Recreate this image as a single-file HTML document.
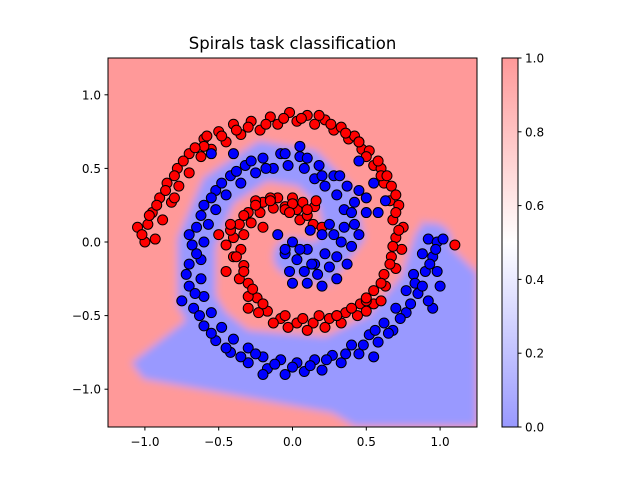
<!DOCTYPE html>
<html><head><meta charset="utf-8">
<style>
html,body{margin:0;padding:0;background:#fff;}
svg text{font-family:"DejaVu Sans","Liberation Sans",sans-serif;}
</style></head>
<body>
<svg id="chart" width="640" height="480" viewBox="0 0 640 480" xmlns="http://www.w3.org/2000/svg">
<defs>
<filter id="blur" x="-10%" y="-10%" width="120%" height="120%"><feGaussianBlur stdDeviation="4"/></filter>
<clipPath id="clip"><rect x="108" y="58" width="369" height="369"/></clipPath>
<linearGradient id="cbar" x1="0" y1="1" x2="0" y2="0">
<stop offset="0" stop-color="#9999ff"/><stop offset="0.5" stop-color="#ffffff"/><stop offset="1" stop-color="#ff9999"/>
</linearGradient>
</defs>
<text x="292.5" y="49" font-size="16.5" text-anchor="middle">Spirals task classification</text>
<g id="plot" clip-path="url(#clip)"></g>
<rect x="108" y="58" width="369" height="369" fill="none" stroke="#000" stroke-width="1"/>
<g id="axes"></g>
<rect x="502" y="58" width="16" height="369" fill="url(#cbar)" stroke="#000" stroke-width="1"/>
<g id="cbticks"></g>
</svg>
<script>
const redX=[-1.05,-1.0,-0.98,-0.93,-0.95,-0.88,-0.9,-0.82,-0.85,-0.77,-0.78,-0.7,-0.7,-0.62,-0.6,-0.55,-0.5,-0.45,-0.4,-0.35,-0.28,-0.22,-0.15,-0.1,-0.02,0.03,0.1,0.15,0.22,0.28,0.33,0.38,0.42,0.47,0.52,0.55,0.6,0.62,0.67,0.66,0.72,0.68,0.75,0.7,0.74,0.67,0.7,0.62,0.63,0.55,0.55,0.46,0.44,0.36,0.33,0.25,0.22,0.14,0.1,0.03,-0.03,-0.08,-0.13,-0.17,-0.23,-0.24,-0.3,-0.3,-0.36,-0.33,-0.4,-0.35,-0.4,-0.33,-0.36,-0.28,-0.3,-0.22,-0.2,-0.13,-0.1,-0.05,0.0,0.03,0.07,0.05,0.1,-0.45,-0.42,1.1,-0.25,-0.15,0.0,0.15,0.3,0.5,-0.6,-0.8,0.6,0.45,-0.05,-0.2];
const redY=[0.1,0.0,0.12,0.02,0.2,0.15,0.3,0.27,0.4,0.38,0.5,0.47,0.6,0.58,0.7,0.63,0.75,0.68,0.8,0.73,0.82,0.76,0.85,0.8,0.88,0.82,0.86,0.8,0.83,0.76,0.78,0.7,0.72,0.63,0.62,0.52,0.5,0.4,0.38,0.28,0.25,0.15,0.1,0.03,-0.05,-0.1,-0.18,-0.22,-0.3,-0.33,-0.42,-0.42,-0.5,-0.48,-0.55,-0.52,-0.58,-0.55,-0.6,-0.55,-0.58,-0.52,-0.55,-0.47,-0.48,-0.38,-0.37,-0.28,-0.25,-0.16,-0.1,-0.05,0.03,0.05,0.12,0.13,0.2,0.2,0.27,0.23,0.3,0.24,0.3,0.22,0.27,0.15,0.18,-0.02,0.08,-0.02,0.28,0.3,0.26,0.24,-0.5,-0.4,0.65,0.3,0.45,0.68,0.22,0.1];
const redX2=[-1.02,-0.97,-0.92,-0.86,-0.8,-0.74,-0.66,-0.58,-0.48,-0.38,-0.3,-0.18,-0.06,0.06,0.18,0.26,0.36,0.45,0.5,0.58,0.64,0.7,0.7,0.72,0.68,0.66,0.6,0.5,0.4,0.3,0.18,0.07,-0.05,-0.2,-0.27,-0.33,-0.38,-0.42,-0.33,-0.25,-0.15,-0.02,0.1,0.14,0.2,0.16,-0.5,-0.45,-0.3,0.5,0.6];
const redY2=[0.05,0.18,0.25,0.35,0.45,0.55,0.64,0.72,0.72,0.76,0.78,0.8,0.84,0.84,0.86,0.8,0.74,0.68,0.58,0.55,0.45,0.32,0.2,0.08,-0.03,-0.15,-0.28,-0.38,-0.45,-0.5,-0.5,-0.52,-0.5,-0.42,-0.32,-0.2,-0.1,0.12,0.18,0.25,0.28,0.2,0.22,0.12,0.1,0.28,0.05,-0.2,-0.45,-0.47,-0.4];
const blueX=[0.0,-0.05,0.03,-0.02,0.08,0.1,0.17,0.2,0.25,0.3,0.3,0.37,0.33,0.4,0.35,0.42,0.35,0.42,0.3,0.37,0.22,0.28,0.15,0.18,0.08,0.05,-0.03,-0.08,-0.13,-0.2,-0.25,-0.32,-0.35,-0.42,-0.45,-0.52,-0.52,-0.6,-0.57,-0.65,-0.6,-0.68,-0.62,-0.7,-0.62,-0.7,-0.6,-0.67,-0.55,-0.6,-0.48,-0.52,-0.4,-0.42,-0.3,-0.3,-0.2,-0.17,-0.08,-0.05,0.03,0.08,0.15,0.2,0.27,0.33,0.4,0.45,0.52,0.58,0.62,0.68,0.7,0.77,0.77,0.85,0.82,0.9,0.88,0.95,0.92,0.98,1.0,0.95,-0.1,0.12,0.25,-0.05,0.5,0.58,0.1,0.2,0.15,0.45,-0.4,0.05,-0.55];
const blueY=[0.0,-0.08,-0.12,-0.2,-0.2,-0.28,-0.22,-0.3,-0.17,-0.25,-0.1,-0.15,0.0,-0.03,0.1,0.12,0.22,0.27,0.32,0.38,0.38,0.45,0.43,0.52,0.5,0.58,0.52,0.6,0.5,0.57,0.47,0.52,0.4,0.45,0.32,0.35,0.22,0.25,0.12,0.1,0.0,-0.02,-0.12,-0.15,-0.25,-0.3,-0.37,-0.45,-0.48,-0.57,-0.58,-0.67,-0.66,-0.75,-0.72,-0.82,-0.78,-0.86,-0.8,-0.9,-0.82,-0.88,-0.8,-0.87,-0.77,-0.82,-0.7,-0.76,-0.63,-0.68,-0.55,-0.6,-0.45,-0.48,-0.33,-0.35,-0.22,-0.2,-0.08,-0.1,0.02,0.0,-0.3,-0.45,0.05,0.08,0.12,-0.05,0.3,0.2,-0.05,0.05,-0.15,0.55,0.6,0.65,0.6];
const blueX2=[0.05,0.0,0.13,0.22,0.28,0.45,0.4,0.45,0.32,0.2,0.1,-0.05,-0.18,-0.28,-0.38,-0.48,-0.55,-0.62,-0.7,-0.65,-0.72,-0.66,-0.63,-0.55,-0.45,-0.35,-0.25,-0.12,0.0,0.12,0.23,0.36,0.48,0.56,0.65,0.73,0.8,0.83,0.88,0.93,0.97,1.02,0.98,0.92,0.55,0.63,0.5,-0.2,0.55,-0.75];
const blueY2=[-0.05,-0.28,-0.15,-0.08,0.05,0.05,0.2,0.35,0.45,0.45,0.57,0.6,0.5,0.55,0.48,0.4,0.3,0.18,0.05,-0.08,-0.22,-0.35,-0.5,-0.62,-0.72,-0.78,-0.76,-0.83,-0.85,-0.84,-0.8,-0.76,-0.7,-0.6,-0.62,-0.52,-0.42,-0.28,-0.3,-0.15,-0.05,0.02,-0.2,-0.4,0.4,0.28,0.2,-0.9,-0.78,-0.4];
const xTicks=[-1.0,-0.5,0.0,0.5,1.0];
const yTicks=[1.0,0.5,0.0,-0.5,-1.0];
const cbTicks=[0.0,0.2,0.4,0.6,0.8,1.0];
const blueRegionX=[-1.09,-1.01,0.27,0.42,1.25,1.25,0.88,0.82,0.6,0.3,-0.3,-0.55];
const blueRegionY=[-0.82,-0.93,-1.16,-1.25,-1.25,-0.21,0.15,-0.2,-0.55,-0.65,-0.6,-0.4];
const blueArmX=[0.0,0.2,0.35,0.3,0.1,-0.2,-0.5,-0.65,-0.65,-0.5,-0.2,0.2,0.6,0.85,0.95];
const blueArmY=[-0.1,-0.15,0.05,0.3,0.5,0.55,0.35,0.0,-0.4,-0.65,-0.8,-0.8,-0.6,-0.3,0.0];

const sx=v=>292.5+v*147.6, sy=v=>242-v*147.2;
const NS="http://www.w3.org/2000/svg";
const plot=document.getElementById('plot'), axes=document.getElementById('axes'), cbg=document.getElementById('cbticks');
function mk(tag,attrs,parent){const e=document.createElementNS(NS,tag);for(const k in attrs)e.setAttribute(k,attrs[k]);parent.appendChild(e);return e;}

const bg=mk('g',{filter:'url(#blur)'},plot);
const bgr=mk('rect',{x:90,y:40,width:410,height:410,fill:'#ff9999'},bg);


const poly=mk('polygon',{points:blueRegionX.map((x,i)=>sx(x)+','+sy(blueRegionY[i])).join(' '),fill:'#9999ff'},bg);


const arm=mk('polyline',{points:blueArmX.map((x,i)=>sx(x)+','+sy(blueArmY[i])).join(' '),fill:'none',stroke:'#9999ff','stroke-width':38,'stroke-linejoin':'miter','stroke-linecap':'round'},bg);



function scatter(xs,ys,color,name){
  for(let i=0;i<xs.length;i++){
    const c=mk('circle',{cx:sx(xs[i]),cy:sy(ys[i]),r:5,fill:color,stroke:'#000','stroke-width':1},plot);
    
    
  }
}
scatter(redX,redY,'#ff0000','red-point');
scatter(redX2,redY2,'#ff0000','red-point');
scatter(blueX,blueY,'#0000ff','blue-point');
scatter(blueX2,blueY2,'#0000ff','blue-point');

xTicks.forEach(t=>{
  const x=sx(t);
  mk('line',{x1:x,y1:427,x2:x,y2:430.5,stroke:'#000'},axes);
  const tx=mk('text',{x:x,y:446,'font-size':12,'text-anchor':'middle'},axes);
  tx.textContent=(t<0?'\u2212':'')+Math.abs(t).toFixed(1);
  
  
});
yTicks.forEach(t=>{
  const y=sy(t);
  mk('line',{x1:104.5,y1:y,x2:108,y2:y,stroke:'#000'},axes);
  const tx=mk('text',{x:101,y:y+4.5,'font-size':12,'text-anchor':'end'},axes);
  tx.textContent=(t<0?'\u2212':'')+Math.abs(t).toFixed(1);
  
  
});
cbTicks.forEach(t=>{
  const y=427-t*369;
  mk('line',{x1:518,y1:y,x2:521.5,y2:y,stroke:'#000'},cbg);
  const tx=mk('text',{x:525,y:y+4.5,'font-size':12},cbg);
  tx.textContent=t.toFixed(1);
  
  
});
</script>
</body></html>
